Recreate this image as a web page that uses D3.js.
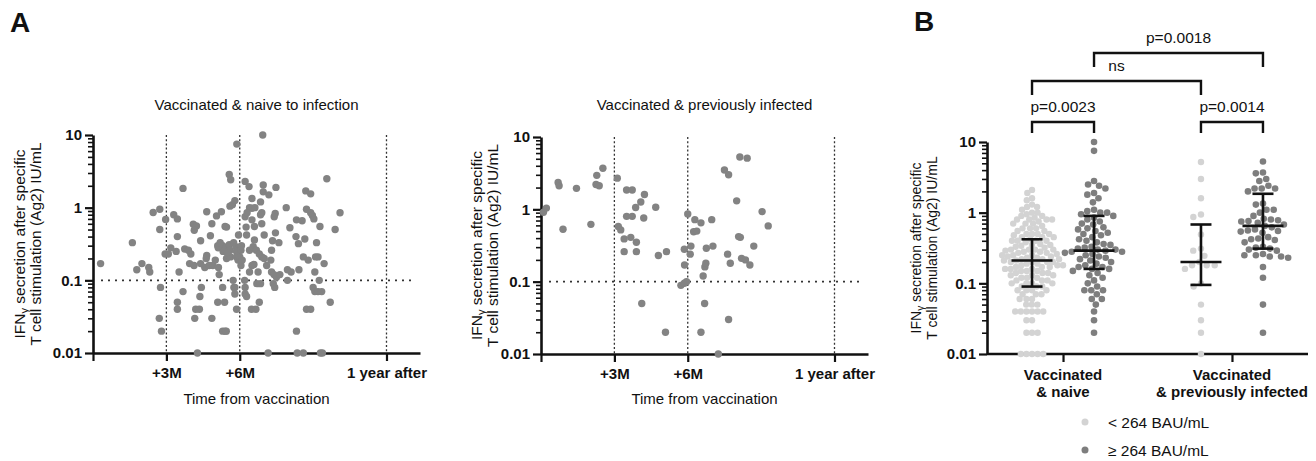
<!DOCTYPE html>
<html><head><meta charset="utf-8">
<script src="https://cdn.jsdelivr.net/npm/d3@7"></script>
<style>
body{margin:0;background:#fff}
svg{display:block}
text{font-family:"Liberation Sans",Arial,Helvetica,sans-serif;fill:#111}
</style>
</head><body>
<svg id="c" width="1316" height="461"></svg>
<script>
// ---------------- DATA ----------------
const yTicks = [0.01, 0.1, 1, 10];
const yTickLabels = ["0.01", "0.1", "1", "10"];
const timeTicks = [0, 3, 6, 12];
const timeTickLabels = ["", "+3M", "+6M", "1 year after"];
const timeGuides = [3, 6, 12];
const thresholdIFN = 0.1;

// Panel A left: vaccinated & naive to infection (months since vaccination, IU/mL)
const naiveMonths = [0.31,1.61,1.79,2.0,2.28,2.32,2.46,2.73,2.73,2.76,2.71,2.8,2.97,2.95,3.08,3.18,3.3,3.45,3.45,3.4,
3.52,3.68,3.68,3.75,3.45,3.45,3.95,4.13,4.0,4.1,4.23,4.14,4.2,4.35,4.16,4.37,4.43,4.65,4.65,4.63,
4.57,4.75,4.8,4.86,4.86,4.9,5.05,5.1,5.12,5.13,5.16,5.1,5.38,5.25,5.3,5.4,5.32,5.3,5.4,5.45,
5.4,5.46,5.46,5.53,5.3,5.57,5.63,5.57,5.6,5.62,5.6,5.7,5.8,5.73,5.76,5.8,5.8,5.84,5.87,5.87,
5.93,5.87,5.88,5.95,6.05,6.07,6.05,6.22,6.38,6.22,6.26,6.28,6.2,6.22,6.22,6.28,6.4,6.5,6.62,6.5,
6.4,6.55,6.68,6.8,6.48,6.66,6.5,6.6,6.5,6.58,6.4,6.7,6.85,6.8,6.85,6.94,6.96,6.96,6.9,6.85,
6.9,7.0,7.19,7.27,7.3,7.3,7.4,7.5,7.64,7.34,7.46,7.45,7.41,7.48,7.37,7.43,7.16,7.6,7.9,7.95,
8.1,7.95,8.3,8.32,8.4,8.42,8.32,8.35,8.6,8.66,8.6,8.8,8.7,8.9,8.73,8.9,8.97,9.03,9.0,9.07,
9.2,9.35,8.73,8.9,9.07,9.14,9.2,9.1,9.25,9.28,9.3,9.38,9.45,9.56,9.7,9.9,10.1,4.27,
5.2,5.5,5.75,6.0,6.1,5.0,4.4,4.4,3.9,6.6,6.75,7.1,7.0,6.3,6.9,8.05,8.55];
const naiveIFN = [0.17,0.33,0.14,0.17,0.15,0.13,0.86,0.95,0.5,0.08,0.03,0.02,0.69,0.23,0.23,0.28,0.8,0.7,0.4,0.25,
0.13,1.84,0.07,0.27,0.05,0.04,0.17,0.16,0.23,0.59,0.56,0.49,0.04,0.04,0.03,0.06,0.08,0.88,0.22,0.2,
0.15,0.16,0.41,0.6,0.03,0.16,0.77,0.3,0.28,0.15,0.12,0.05,0.05,0.88,0.3,0.28,0.25,0.02,0.02,0.02,
0.55,0.54,0.2,0.22,0.08,2.86,2.42,0.31,0.26,0.21,1.05,1.1,1.25,0.1,0.08,0.08,0.065,0.29,0.25,0.21,
0.19,0.04,7.5,0.42,0.26,0.3,0.16,2.3,1.95,0.75,0.54,0.42,0.1,0.08,0.065,0.06,1.0,0.98,1.0,1.34,
0.26,0.29,0.26,0.23,0.04,0.04,0.68,0.55,0.16,0.165,0.13,0.09,0.09,0.05,1.2,10,2.05,1.65,0.85,0.8,
0.21,0.2,1.5,0.19,0.26,0.13,0.12,0.11,0.12,0.35,0.45,0.83,0.75,1.9,0.09,0.08,0.01,0.33,1.0,0.14,
0.13,0.1,0.4,0.68,0.32,0.14,0.02,0.01,0.01,0.37,0.21,0.19,1.7,1.55,0.95,0.85,0.78,0.7,0.08,0.07,
0.07,0.07,0.04,0.04,0.13,0.33,0.21,0.21,0.1,0.55,0.01,0.01,0.17,2.5,0.05,0.5,0.85,0.01,
0.33,0.24,0.33,0.21,0.19,0.19,0.17,0.35,0.26,0.36,0.13,0.16,0.42,0.85,0.6,0.53,0.66];

// Panel A right: vaccinated & previously infected
const prevMonths = [0.1,0.22,0.7,0.74,0.9,1.45,2.04,2.28,2.25,2.38,2.53,3.12,3.16,3.26,3.5,3.73,3.4,3.67,3.4,3.9,
3.5,3.73,3.87,3.9,4.08,4.23,4.2,4.12,4.69,4.8,5.13,5.09,5.72,5.86,5.86,5.87,6.0,5.95,6.13,6.1,
6.29,6.54,6.24,6.37,6.54,6.63,6.69,6.7,6.74,6.76,6.98,7.03,7.25,7.5,7.67,7.67,7.63,7.74,8.0,8.08,
8.15,8.13,8.43,8.2,8.36,8.54,8.7,9.04,9.29];
const prevIFN = [0.91,1.04,2.35,2.12,0.53,1.95,0.62,2.95,2.2,2.12,3.7,2.7,0.58,0.52,1.85,1.85,0.39,0.41,0.26,0.26,
0.8,0.8,1.06,0.35,1.26,1.6,0.76,0.05,1.07,0.23,0.26,0.02,0.089,0.095,0.28,0.17,0.86,0.1,0.31,0.24,
0.72,0.65,0.49,0.5,0.02,0.12,0.05,0.16,0.18,0.29,0.72,0.31,0.01,3.5,3.0,0.03,0.24,0.18,1.31,0.42,
0.41,5.3,5.1,0.21,0.2,0.17,0.31,0.93,0.59];

// Panel B
const categories = ["Vaccinated|& naive", "Vaccinated|& previously infected"];
const antibodyLevels = ["< 264 BAU/mL", "\u2265 264 BAU/mL"];
const naiveLow = [2.1,1.9,1.6,1.5,1.3,1.2,1.2,1.1,
1.0,1.0,0.95,0.9,0.9,0.85,0.8,0.8,0.8,0.8,0.75,0.7,0.7,0.7,0.65,0.6,0.6,0.6,0.55,0.55,0.5,0.5,0.5,0.5,
0.48,0.45,0.45,0.45,0.42,0.4,0.4,0.4,0.4,0.38,0.36,0.35,0.35,0.34,0.33,0.32,0.3,0.3,0.3,0.3,0.29,0.28,
0.28,0.27,0.27,0.26,0.25,0.25,0.25,0.24,0.24,0.23,0.23,0.22,0.22,0.22,0.21,0.21,0.2,0.2,0.2,0.2,0.19,
0.19,0.18,0.18,0.18,0.17,0.17,0.17,0.16,0.16,0.16,0.15,0.15,0.15,0.14,0.14,0.14,0.13,0.13,0.13,0.12,
0.12,0.12,0.11,0.11,0.11,0.1,0.1,0.1,0.1,0.09,0.09,0.09,0.08,0.08,0.08,0.08,0.07,0.07,0.07,0.06,0.06,
0.06,0.05,0.05,0.05,0.04,0.04,0.04,0.04,0.04,0.04,0.03,0.03,0.02,0.02,0.02,0.01,0.01,0.01,0.01,0.01];
const naiveHigh = [10,7.5,2.8,2.5,2.4,2.2,1.9,1.8,1.6,1.4,1.1,1.05,1.0,1.0,0.95,0.9,0.85,0.8,0.75,0.7,
0.68,0.62,0.6,0.58,0.55,0.52,0.5,0.48,0.45,0.42,0.4,0.38,0.36,0.35,0.33,0.32,0.31,0.3,0.3,0.29,
0.28,0.28,0.27,0.26,0.25,0.24,0.23,0.22,0.21,0.2,0.19,0.18,0.17,0.17,0.16,0.16,0.15,0.14,0.13,0.12,
0.11,0.1,0.09,0.08,0.08,0.08,0.07,0.06,0.06,0.05,0.04,0.03,0.02];
const infLow = [5.2,3.0,1.6,0.94,0.87,0.49,0.31,0.29,0.245,0.2,0.18,0.18,0.18,0.16,0.1,0.09,0.05,0.03,0.02,0.01];
const infHigh = [5.3,3.7,3.6,3.0,2.8,2.4,2.2,2.2,2.2,2.0,1.35,1.3,1.1,1.1,1.0,0.9,0.82,0.8,0.78,0.76,
0.75,0.72,0.68,0.65,0.62,0.58,0.56,0.55,0.54,0.52,0.45,0.43,0.42,0.41,0.38,0.33,0.32,0.31,0.3,0.29,
0.26,0.25,0.25,0.24,0.24,0.23,0.17,0.12,0.05,0.02];
const groupMedian = [0.21, 0.29, 0.20, 0.65];
const groupLow    = [0.09, 0.16, 0.095, 0.31];
const groupHigh   = [0.42, 0.90, 0.68, 1.85];
const pLabels = ["p=0.0023", "p=0.0014", "ns", "p=0.0018"];

// ---------------- DRAW ----------------
const svg = d3.select("#c");
const FONT = '"Liberation Sans",Arial,Helvetica,sans-serif';
const minorVals = [];
[0.01, 0.1, 1].forEach(b => { for (let k = 2; k <= 9; k++) minorVals.push(b * k); });

function yAxis(g, y, x0) {
  g.attr("transform", `translate(${x0},0)`);
  g.append("g").call(d3.axisLeft(y).tickValues(minorVals).tickFormat("").tickSize(5).tickSizeOuter(0))
    .call(a => a.select(".domain").remove())
    .call(a => a.selectAll("line").attr("stroke", "#111").attr("stroke-width", 1.6));
  g.append("g").call(d3.axisLeft(y).tickValues(yTicks).tickFormat((d, i) => yTickLabels[i]).tickSize(8).tickSizeOuter(0).tickPadding(3))
    .call(a => a.select(".domain").attr("stroke", "#111").attr("stroke-width", 2.6))
    .call(a => a.selectAll("line").attr("stroke", "#111").attr("stroke-width", 2.2))
    .call(a => a.selectAll("text").attr("font-family", FONT).attr("font-size", 15).attr("font-weight", "bold").attr("fill", "#111"));
}

function yLabel(g, xa, xb, cy, fs) {
  const t1 = g.append("text").attr("transform", `translate(${xa},${cy}) rotate(-90)`)
    .attr("text-anchor", "middle").attr("font-size", fs);
  t1.append("tspan").text("IFN");
  t1.append("tspan").text("\u03b3").attr("font-size", fs * 0.72).attr("dy", 3);
  t1.append("tspan").text(" secretion after specific").attr("dy", -3);
  g.append("text").attr("transform", `translate(${xb},${cy}) rotate(-90)`)
    .attr("text-anchor", "middle").attr("font-size", fs).text("T cell stimulation (Ag2) IU/mL");
}

function scatterPanel(o) {
  const g = svg.append("g");
  const x = d3.scaleLinear().domain([0, 13.37]).range([o.x0, o.x1]);
  const y = d3.scaleLog().domain([0.01, 10]).range([o.yb, o.yt]);
  g.selectAll(".vg").data(timeGuides).join("line")
    .attr("x1", d => x(d)).attr("x2", d => x(d)).attr("y1", y(10)).attr("y2", y(0.01))
    .attr("stroke", "#333").attr("stroke-width", 1.3).attr("stroke-dasharray", "2,2.2");
  g.append("line").attr("x1", o.x0 + 8).attr("x2", o.x1 - 6).attr("y1", y(thresholdIFN)).attr("y2", y(thresholdIFN))
    .attr("stroke", "#333").attr("stroke-width", 1.8).attr("stroke-dasharray", "2,5");
  yAxis(g.append("g"), y, o.x0);
  g.append("g").attr("transform", `translate(0,${o.yb})`)
    .call(d3.axisBottom(x).tickValues(timeTicks).tickFormat((d, i) => timeTickLabels[i]).tickSize(8).tickSizeOuter(0).tickPadding(6))
    .call(a => a.select(".domain").attr("stroke", "#111").attr("stroke-width", 2.6))
    .call(a => a.selectAll("line").attr("stroke", "#111").attr("stroke-width", 2.2))
    .call(a => a.selectAll("text").attr("font-family", FONT).attr("font-size", 15).attr("font-weight", "bold").attr("fill", "#111"));
  g.selectAll(".pt").data(o.months.map((m, i) => [m, o.values[i]])).join("circle")
    .attr("cx", d => x(d[0])).attr("cy", d => y(d[1])).attr("r", 3.7).attr("fill", "#838383");
  g.append("text").attr("x", (o.x0 + o.x1) / 2).attr("y", 110).attr("text-anchor", "middle").attr("font-size", 15).text(o.title);
  g.append("text").attr("x", (o.x0 + o.x1) / 2).attr("y", 404).attr("text-anchor", "middle").attr("font-size", 15).text("Time from vaccination");
  yLabel(g, o.lx1, o.lx2, (o.yt + o.yb) / 2, 15.5);
}

scatterPanel({x0: 93, x1: 420, yt: 135, yb: 353, months: naiveMonths, values: naiveIFN,
  title: "Vaccinated & naive to infection", lx1: 25, lx2: 41});
scatterPanel({x0: 541, x1: 868, yt: 137, yb: 354, months: prevMonths, values: prevIFN,
  title: "Vaccinated & previously infected", lx1: 482, lx2: 498});

svg.append("text").attr("x", 10).attr("y", 32).attr("font-size", 28).attr("font-weight", "bold").text("A");
svg.append("text").attr("x", 914).attr("y", 31).attr("font-size", 28).attr("font-weight", "bold").text("B");

// ---------- Panel B ----------
const gB = svg.append("g");
const bx0 = 987, bx1 = 1308;
const xCat = d3.scalePoint().domain(categories).range([bx0, bx1]).padding(0.45);
const xSub = d3.scalePoint().domain(antibodyLevels).range([-31, 31]);
const yB = d3.scaleLog().domain([0.01, 10]).range([354, 142]);

yAxis(gB.append("g"), yB, bx0);
gB.append("g").attr("transform", "translate(0,354)")
  .call(d3.axisBottom(xCat).tickSize(8).tickSizeOuter(0).tickFormat(""))
  .call(a => a.select(".domain").attr("stroke", "#111").attr("stroke-width", 2.6).attr("d", `M${bx0},0H${bx1}`))
  .call(a => a.selectAll("line").attr("stroke", "#111").attr("stroke-width", 2.2));
categories.forEach(c => {
  const parts = c.split("|");
  parts.forEach((p, i) => gB.append("text").attr("x", xCat(c)).attr("y", 380 + i * 17)
    .attr("text-anchor", "middle").attr("font-size", 15).attr("font-weight", "bold").text(p));
});
yLabel(gB, 921, 937, 248, 14);

function swarm(values, y, d) {
  const pts = values.map(v => ({v, y: y(v), x: 0})).sort((a, b) => b.v - a.v);
  const placed = [];
  for (const p of pts) {
    const near = placed.filter(q => Math.abs(q.y - p.y) < d);
    const cands = [0];
    for (const q of near) {
      const dx = Math.sqrt(d * d - (q.y - p.y) ** 2);
      cands.push(q.x + dx, q.x - dx);
    }
    cands.sort((a, b) => Math.abs(a) - Math.abs(b) || a - b);
    for (const c of cands) {
      if (near.every(q => (q.x - c) ** 2 + (q.y - p.y) ** 2 >= d * d - 0.01)) { p.x = c; break; }
    }
    placed.push(p);
  }
  return placed;
}

const groups = [
  {cat: categories[0], lvl: antibodyLevels[0], vals: naiveLow, color: "#d3d3d3", r: 3.2, d: 5.6},
  {cat: categories[0], lvl: antibodyLevels[1], vals: naiveHigh, color: "#7e7e7e", r: 3.3, d: 6.9},
  {cat: categories[1], lvl: antibodyLevels[0], vals: infLow, color: "#d3d3d3", r: 3.2, d: 8.0},
  {cat: categories[1], lvl: antibodyLevels[1], vals: infHigh, color: "#7e7e7e", r: 3.3, d: 7.2}
];
groups.forEach(gr => {
  const cx = xCat(gr.cat) + xSub(gr.lvl);
  gr.cx = cx;
  gB.append("g").selectAll("circle").data(swarm(gr.vals, yB, gr.d)).join("circle")
    .attr("cx", p => cx + p.x).attr("cy", p => p.y).attr("r", gr.r).attr("fill", gr.color);
});
groups.forEach((gr, gi) => {
  const cx = gr.cx;
  const e = gB.append("g").attr("stroke", "#111").attr("stroke-width", 2.6).attr("fill", "none");
  e.append("line").attr("x1", cx).attr("x2", cx).attr("y1", yB(groupLow[gi])).attr("y2", yB(groupHigh[gi]));
  e.append("line").attr("x1", cx - 10.5).attr("x2", cx + 10.5).attr("y1", yB(groupLow[gi])).attr("y2", yB(groupLow[gi]));
  e.append("line").attr("x1", cx - 10.5).attr("x2", cx + 10.5).attr("y1", yB(groupHigh[gi])).attr("y2", yB(groupHigh[gi]));
  e.append("line").attr("x1", cx - 20.5).attr("x2", cx + 20.5).attr("y1", yB(groupMedian[gi])).attr("y2", yB(groupMedian[gi]));
});

const comps = [
  {a: 0, b: 1, top: 122, leg: 11, label: pLabels[0]},
  {a: 2, b: 3, top: 122, leg: 11, label: pLabels[1]},
  {a: 0, b: 2, top: 81, leg: 14, label: pLabels[2]},
  {a: 1, b: 3, top: 53, leg: 14, label: pLabels[3]}
];
comps.forEach(c => {
  const xa1 = groups[c.a].cx, xb1 = groups[c.b].cx;
  gB.append("path").attr("d", `M${xa1},${c.top + c.leg}V${c.top}H${xb1}V${c.top + c.leg}`)
    .attr("fill", "none").attr("stroke", "#111").attr("stroke-width", 2.4);
  gB.append("text").attr("x", (xa1 + xb1) / 2).attr("y", c.top - 10).attr("text-anchor", "middle")
    .attr("font-size", 15.5).text(c.label);
});

antibodyLevels.forEach((l, i) => {
  const ly = 422 + i * 28;
  gB.append("circle").attr("cx", 1085).attr("cy", ly).attr("r", 3.5).attr("fill", i ? "#7e7e7e" : "#d3d3d3");
  gB.append("text").attr("x", 1108).attr("y", ly + 5.5).attr("font-size", 15.5).text(l);
});
</script>
</body></html>
